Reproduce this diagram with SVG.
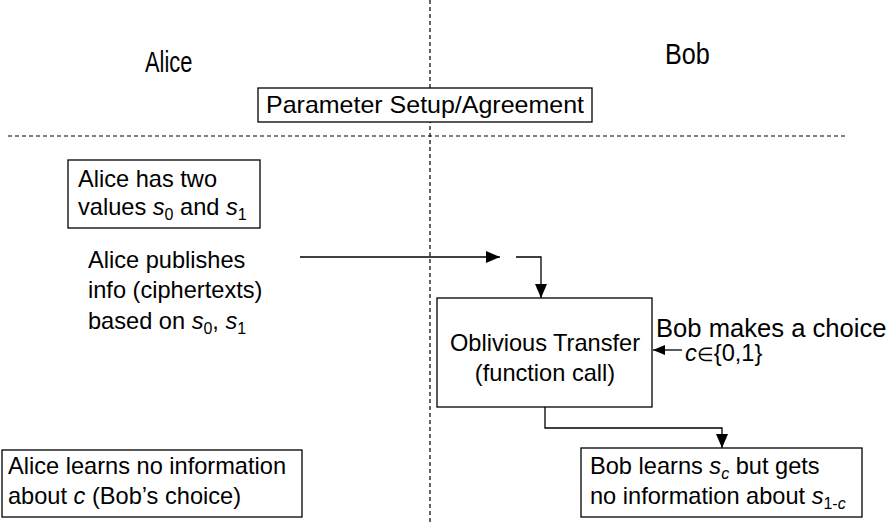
<svg xmlns="http://www.w3.org/2000/svg" width="894" height="523" viewBox="0 0 894 523">
<style>
  .t{font-family:"Liberation Sans",Arial,sans-serif;font-size:23.6px;fill:#000}
  .title{font-family:"Liberation Sans",Arial,sans-serif;font-size:28px;fill:#000}
  .box{fill:#fff;stroke:#000;stroke-width:1.3}
  .dash{stroke:#000;stroke-width:1.2;stroke-dasharray:4 3;fill:none}
  .conn{stroke:#000;stroke-width:1.3;fill:none}
  .i{font-style:italic}
  .sub{font-size:16px}
</style>
<defs>
  <marker id="ah" viewBox="0 0 12 10" refX="12" refY="5" markerWidth="12" markerHeight="10" markerUnits="userSpaceOnUse" orient="auto">
    <path d="M0,0 L12,5 L0,10 Z" fill="#000"/>
  </marker>
  <marker id="ahl" viewBox="0 0 14 12" refX="14" refY="6" markerWidth="14" markerHeight="12" markerUnits="userSpaceOnUse" orient="auto">
    <path d="M0,0 L14,6 L0,12 Z" fill="#000"/>
  </marker>
</defs>
<rect width="894" height="523" fill="#fff"/>
<g id="dividers">
  <line class="dash" x1="430" y1="0" x2="430" y2="523"/>
  <line class="dash" x1="8" y1="136" x2="846" y2="136"/>
</g>
<g id="titles">
  <text class="title" transform="translate(145,72) scale(0.78,1.05)">Alice</text>
  <text class="title" transform="translate(665,64) scale(0.9,1.05)">Bob</text>
</g>
<g id="setup">
  <rect class="box" x="258" y="88" width="334" height="34"/>
  <text class="t" x="425" y="113" text-anchor="middle" textLength="318" lengthAdjust="spacingAndGlyphs">Parameter Setup/Agreement</text>
</g>
<g id="alice-values">
  <rect class="box" x="68" y="160" width="192" height="68"/>
  <text class="t" x="78" y="187">Alice has two</text>
  <text class="t" x="78" y="215">values <tspan class="i">s</tspan><tspan class="sub" dy="5">0</tspan><tspan dy="-5"> and </tspan><tspan class="i">s</tspan><tspan class="sub" dy="5">1</tspan></text>
</g>
<g id="alice-publishes">
  <text class="t" x="88" y="268">Alice publishes</text>
  <text class="t" x="88" y="298">info (ciphertexts)</text>
  <text class="t" x="88" y="329">based on <tspan class="i">s</tspan><tspan class="sub" dy="5">0</tspan><tspan dy="-5">, </tspan><tspan class="i">s</tspan><tspan class="sub" dy="5">1</tspan></text>
</g>
<g id="ot">
  <rect class="box" x="437" y="298" width="215" height="109"/>
  <text class="t" x="545" y="351" text-anchor="middle">Oblivious Transfer</text>
  <text class="t" x="545" y="381" text-anchor="middle">(function call)</text>
</g>
<g id="bob-choice">
  <text class="t" x="656" y="337" style="font-size:25.6px">Bob makes a choice</text>
  <text class="t" x="685" y="361"><tspan class="i">c</tspan><tspan style="font-size:19px">∈</tspan>{0,1}</text>
</g>
<g id="alice-learns">
  <rect class="box" x="2" y="450" width="300" height="67"/>
  <text class="t" x="8" y="474">Alice learns no information</text>
  <text class="t" x="8" y="504">about <tspan class="i">c</tspan> (Bob’s choice)</text>
</g>
<g id="bob-learns">
  <rect class="box" x="581" y="448" width="281" height="69"/>
  <text class="t" x="590" y="474">Bob learns <tspan class="i">s</tspan><tspan class="sub i" dy="5">c</tspan><tspan dy="-5"> but gets</tspan></text>
  <text class="t" x="590" y="504">no information about <tspan class="i">s</tspan><tspan class="sub" dy="5">1-</tspan><tspan class="sub i">c</tspan></text>
</g>
<g id="connectors">
  <line class="conn" x1="300" y1="257" x2="500" y2="257" marker-end="url(#ahl)"/>
  <polyline class="conn" points="516,257 541,257 541,298" marker-end="url(#ahl)"/>
  <line class="conn" x1="682" y1="350" x2="653" y2="350" marker-end="url(#ah)"/>
  <polyline class="conn" points="545,407 545,428 722,428 722,448" marker-end="url(#ahl)"/>
</g>
</svg>
